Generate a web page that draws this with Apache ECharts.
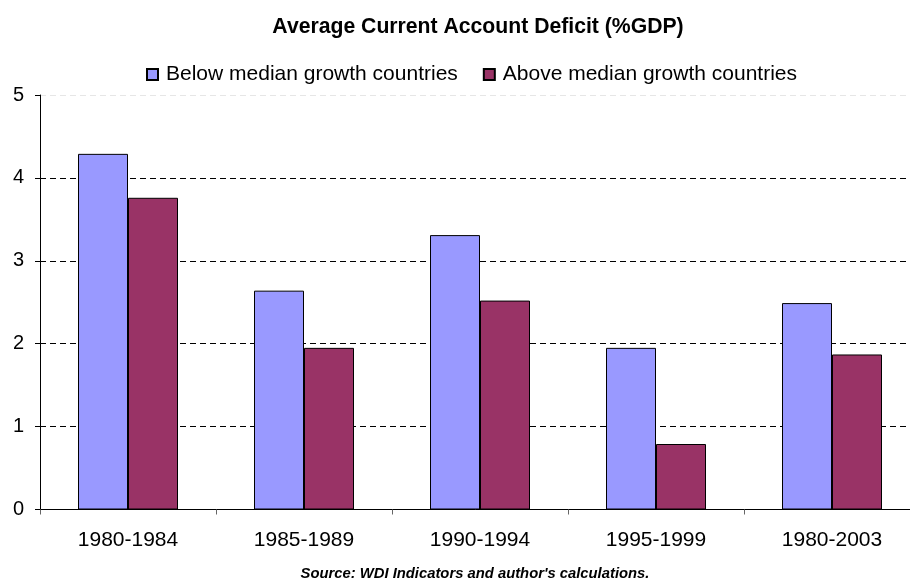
<!DOCTYPE html>
<html>
<head>
<meta charset="utf-8">
<script src="https://cdn.jsdelivr.net/npm/echarts@6/dist/echarts.min.js"></script>
<style>html,body{margin:0;padding:0;background:#fff}#c{width:910px;height:580px}</style>
</head>
<body>
<div id="c"></div>
<script>
var categories = ['1980-1984', '1985-1989', '1990-1994', '1995-1999', '1980-2003'];
var belowMedian = [4.29, 2.64, 3.31, 1.95, 2.49];
var aboveMedian = [3.76, 1.95, 2.52, 0.79, 1.87];
var seriesNames = ['Below median growth countries', 'Above median growth countries'];
var titleText = 'Average Current Account Deficit (%GDP)';
var sourceText = "Source: WDI Indicators and author's calculations.";

var FONT = '"Liberation Sans", Arial, sans-serif';
var chart = echarts.init(document.getElementById('c'), null, {renderer: 'canvas'});
chart.setOption({
  animation: false,
  backgroundColor: '#fff',
  title: [{
    text: titleText,
    left: 473, top: 12, textAlign: 'center',
    textStyle: {fontFamily: FONT, fontSize: 21.2, fontWeight: 'bold', color: '#000'}
  }, {
    text: sourceText,
    left: 470, top: 561, textAlign: 'center',
    textStyle: {fontFamily: FONT, fontSize: 14.8, fontWeight: 'bold', fontStyle: 'italic', color: '#000'}
  }],
  legend: {
    data: seriesNames,
    left: 141, top: 59,
    itemWidth: 11, itemHeight: 11, itemGap: 25,
    icon: 'rect',
    textStyle: {fontFamily: FONT, fontSize: 21, color: '#000', padding: [0, 0, 0, 3]}
  },
  grid: {left: 40, width: 880, top: 95, bottom: 70.5, containLabel: false, outerBoundsMode: 'none'},
  xAxis: {
    type: 'category',
    data: categories,
    axisLine: {lineStyle: {color: '#000', width: 1}},
    axisTick: {show: true, length: 5, lineStyle: {color: '#666'}},
    axisLabel: {fontFamily: FONT, fontSize: 21, color: '#000', margin: 20}
  },
  yAxis: {
    type: 'value',
    min: 0, max: 5, interval: 1,
    axisLine: {show: true, lineStyle: {color: '#000', width: 1}},
    axisTick: {show: true, length: 5, lineStyle: {color: '#000'}},
    axisLabel: {fontFamily: FONT, fontSize: 20, color: '#000', margin: 16},
    splitLine: {show: true, lineStyle: {type: [6, 4], color: ['transparent', '#000', '#000', '#000', '#000', '#e6e6e6'], width: 1}}
  },
  series: [{
    name: seriesNames[0], type: 'bar', data: belowMedian,
    barWidth: 50, barGap: '0%',
    itemStyle: {color: '#9999FF', borderColor: '#000', borderWidth: 1}
  }, {
    name: seriesNames[1], type: 'bar', data: aboveMedian,
    barWidth: 50, barGap: '0%',
    itemStyle: {color: '#993366', borderColor: '#000', borderWidth: 1}
  }]
});
</script>
</body>
</html>
